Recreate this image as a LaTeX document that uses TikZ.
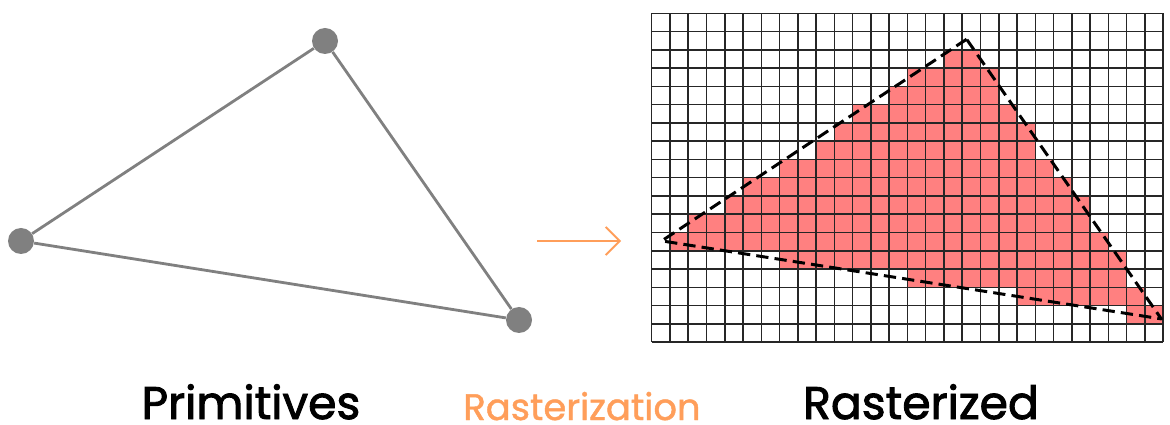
\documentclass[tikz,border=0pt]{standalone}
\usepackage{fontspec}
\usepackage{xcolor}
\usepackage{tikz}
\usetikzlibrary{arrows.meta}
\newfontfamily\labelfont[FakeBold=2]{Poppins}
\newfontfamily\steplabelfont[FakeBold=1.2]{Poppins}
\definecolor{vertexgray}{RGB}{128,128,128}
\definecolor{rastred}{RGB}{255,128,128}
\definecolor{rastorange}{RGB}{255,158,90}

\begin{document}
\begin{tikzpicture}[x=0.02cm,y=-0.02cm,
    vertex/.style={circle,fill=vertexgray,inner sep=0pt,minimum size=26*0.02cm},
    edge/.style={vertexgray,line width=1.6pt},
    caption/.style={anchor=base,inner sep=0pt,text depth=0pt,font=\labelfont\fontsize{26}{30}\selectfont},
    gridline/.style={black!85,line width=0.85pt}]
        \useasboundingbox (0,0) rectangle (1170,425);
        \node[vertex] (ptop) at (325,41) {};
        \node[vertex] (pleft) at (21,241) {};
        \node[vertex] (pright) at (519,320) {};
        \draw[edge] (ptop) -- (pleft) -- (pright) -- (ptop);
        \coordinate (arrfrom) at (537,241);
        \coordinate (arrto) at (621,241);
        \draw[rastorange,line width=1.1pt,-{Straight Barb[length=8pt,width=16pt,line width=1.1pt]}] (arrfrom) -- (arrto);
        \begin{scope}[shift={(651.7,13.3)},x=0.3654cm,y=-0.3654cm]
          \foreach \r/\a/\b in {
            2/16/17, 3/14/18, 4/13/18, 5/11/19, 6/10/20,
            7/9/20, 8/7/21, 9/5/22, 10/4/23, 11/2/23,
          12/1/24, 13/7/25, 14/14/25, 15/20/26, 16/26/27}{
            \fill[rastred] (\a,\r) rectangle (\b+1,\r+1);
          }
          \foreach \i in {0,...,28}{
            \draw[gridline] (\i,0) -- (\i,18);
          }
          \foreach \j in {0,...,18}{
            \draw[gridline] (0,\j) -- (28,\j);
          }
          \coordinate (rtop) at (17.24,1.42);
          \coordinate (rleft) at (0.55,12.46);
          \coordinate (rright) at (27.9,16.73);
          \draw[black,line width=1.7pt,dash pattern=on 7pt off 3.5pt,line join=round] (rtop) -- (rleft) -- (rright) -- cycle;
        \end{scope}
        \node[caption] (primlabel) at (251,419) {Primitives};
        \node[caption,rastorange,font=\steplabelfont\fontsize{21}{25}\selectfont] (rastlabel) at (582,420) {Rasterization};
        \node[caption] (rasdlabel) at (921,419) {Rasterized};
      \end{tikzpicture}
\end{document}
